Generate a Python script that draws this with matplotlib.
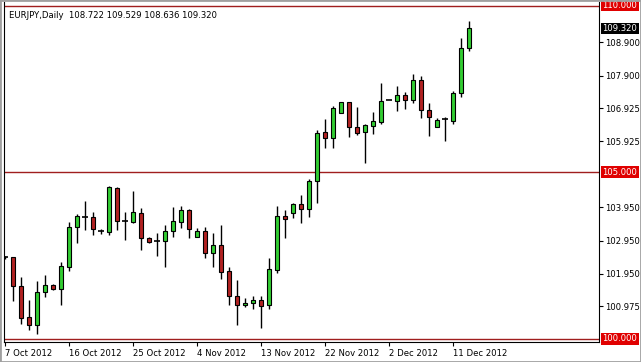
"""
EURJPY daily candlestick chart, Oct - Dec 2012 (MT4 style)
"""

import matplotlib
matplotlib.use("Agg")
import matplotlib.pyplot as plt
from matplotlib.patches import Rectangle

#--------------------------------------------------------------

OPEN = [102.45, 102.45, 101.57, 100.64, 100.40, 101.39, 101.61, 101.49, 102.17, 103.35,
        103.65, 103.65, 103.24, 103.22, 104.53, 103.55, 103.52, 103.77, 103.02, 102.94,
        102.95, 103.25, 103.52, 103.87, 103.07, 103.24, 102.59, 102.81, 102.04, 101.29,
        101.00, 101.07, 101.17, 101.00, 102.07, 103.69, 103.77, 104.05, 103.89, 104.73,
        106.20, 106.02, 106.77, 107.10, 106.35, 106.20, 106.40, 106.52, 107.17, 107.15,
        107.32, 107.17, 107.77, 106.87, 106.35, 106.59, 106.55, 107.37, 108.722]
HIGH = [102.50, 102.45, 101.85, 101.17, 101.74, 101.92, 101.66, 102.30, 103.50, 103.75,
        104.13, 103.80, 103.30, 104.59, 104.57, 103.82, 104.44, 103.92, 103.07, 103.17,
        103.42, 103.97, 103.99, 103.90, 103.34, 103.37, 103.17, 103.42, 102.15, 101.77,
        101.22, 101.27, 101.27, 102.42, 103.99, 103.88, 104.07, 104.32, 104.79, 106.27,
        106.59, 106.99, 107.10, 107.12, 106.97, 106.44, 106.80, 107.69, 107.17, 107.59,
        107.42, 107.95, 107.89, 107.07, 106.62, 106.65, 107.44, 109.02, 109.529]
LOW = [102.40, 101.12, 100.45, 100.27, 100.15, 101.24, 101.45, 101.02, 102.05, 102.89,
       103.27, 103.12, 103.14, 103.12, 103.27, 102.97, 103.49, 102.67, 102.89, 102.49,
       102.15, 103.07, 103.32, 103.04, 103.07, 102.44, 102.15, 101.79, 101.02, 100.42,
       100.94, 100.89, 100.32, 100.89, 101.99, 103.04, 103.62, 103.49, 103.67, 104.09,
       105.72, 105.72, 106.77, 106.07, 106.12, 105.27, 106.14, 106.44, 107.17, 106.85,
       106.90, 107.09, 106.62, 106.10, 106.35, 105.95, 106.45, 107.25, 108.636]
CLOSE = [102.45, 101.57, 100.62, 100.40, 101.40, 101.61, 101.49, 102.18, 103.35, 103.69,
         103.65, 103.31, 103.24, 104.57, 103.55, 103.55, 103.80, 103.04, 102.92, 102.94,
         103.25, 103.54, 103.87, 103.29, 103.24, 102.59, 102.82, 102.02, 101.27, 101.00,
         101.07, 101.17, 100.97, 102.09, 103.69, 103.61, 104.05, 103.89, 104.74, 106.17,
         106.02, 106.92, 107.10, 106.35, 106.19, 106.42, 106.54, 107.14, 107.17, 107.32,
         107.17, 107.77, 106.87, 106.65, 106.57, 106.59, 107.37, 108.72, 109.320]

DATE_POS = [0, 8, 16, 24, 32, 40, 48, 56]
DATE_LABELS = ["7 Oct 2012", "16 Oct 2012", "25 Oct 2012", "4 Nov 2012",
               "13 Nov 2012", "22 Nov 2012", "2 Dec 2012", "11 Dec 2012"]

PRICE_TICKS = [108.900, 107.900, 106.925, 105.925, 103.950, 102.950, 101.950, 100.975]
LEVELS = [110.000, 105.000, 100.000]
LAST_PRICE = 109.320
TITLE = "EURJPY,Daily  108.722 109.529 108.636 109.320"

GREEN = "#32cd32"
RED = "#b22222"
LEVEL_RED = "#a01e1e"
FS = 6.1

#--------------------------------------------------------------

def draw_candles(ax):
    """ Draw wicks and bodies of the candles """
    for i, (o, h, l, c) in enumerate(zip(OPEN, HIGH, LOW, CLOSE)):
        ax.vlines(i, l, h, color="black", lw=1.0, zorder=3)
        if abs(c - o) < 0.02:
            ax.hlines(o, i - 0.35, i + 0.35, color="black", lw=1.2, zorder=4)
        else:
            col = GREEN if c > o else RED
            ax.bar(i, abs(c - o), bottom=min(o, c), width=0.6, color=col,
                   edgecolor="black", linewidth=0.8, zorder=4)


def price_label(ax, value, face, text_color):
    """ Coloured price box on the right scale """
    ax.annotate(f"{value:.3f}", xy=(1.0, value), xycoords=("axes fraction", "data"),
                xytext=(2.5, 0), textcoords="offset points", ha="left", va="center",
                fontsize=FS, color=text_color, annotation_clip=False,
                bbox=dict(boxstyle="square,pad=0.15", fc=face, ec="none"))


def make_chart():
    fig = plt.figure(figsize=(6.41, 3.62), dpi=100)
    ax = fig.add_axes([4 / 641, 20 / 362, 595 / 641, 340 / 362])

    draw_candles(ax)
    for lev in LEVELS:
        ax.axhline(lev, color=LEVEL_RED, lw=1.0, zorder=2)

    ax.set_xlim(-0.125, 74.25)
    ax.set_ylim(99.904, 110.11)

    ax.set_xticks(DATE_POS)
    ax.set_xticklabels(DATE_LABELS, ha="left", fontsize=FS)
    ax.yaxis.tick_right()
    ax.set_yticks(PRICE_TICKS)
    ax.set_yticklabels([f"{p:.3f}" for p in PRICE_TICKS], fontsize=FS)
    ax.tick_params(axis="x", length=3, width=0.8, pad=2)
    ax.tick_params(axis="y", length=3, width=0.8, pad=1.5)
    for sp in ax.spines.values():
        sp.set_linewidth(0.8)
        sp.set_color("black")
    ax.spines["top"].set_visible(False)

    price_label(ax, LAST_PRICE, "black", "white")
    for lev in LEVELS:
        price_label(ax, lev, "#e00000", "white")

    ax.text(0.008, 0.975, TITLE, transform=ax.transAxes, fontsize=FS,
            ha="left", va="top")

    fig.patches.append(Rectangle((0, 0), 1, 1, transform=fig.transFigure,
                                 fill=False, ec="#a0a0a0", lw=2))
    fig.savefig("out.png", dpi=100)

#--------------------------------------------------------------

if __name__ == "__main__":
    make_chart()
